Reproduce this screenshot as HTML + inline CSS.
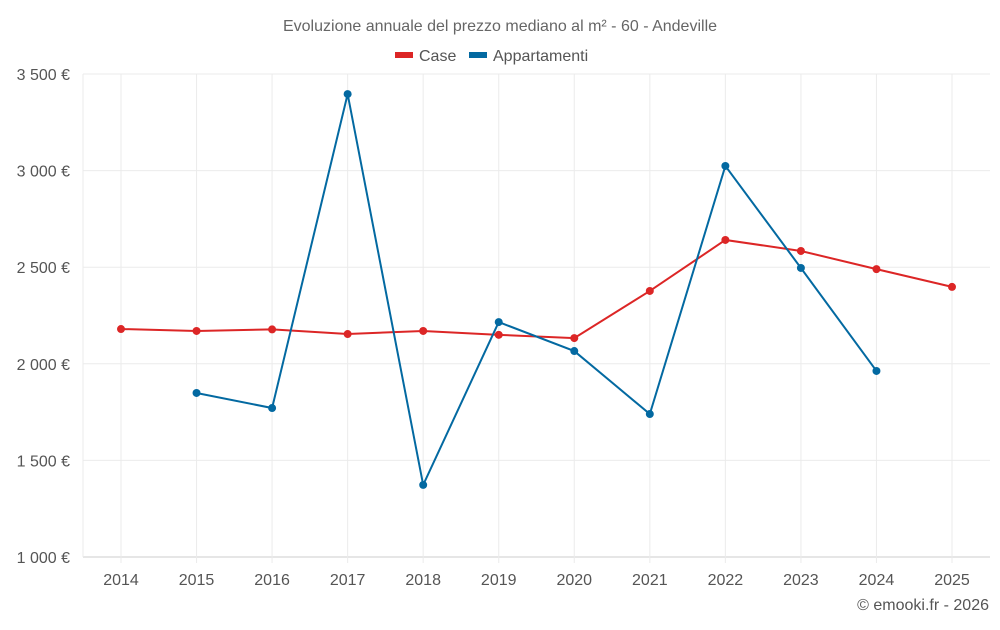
<!DOCTYPE html>
<html><head><meta charset="utf-8"><style>
body{margin:0;background:#fff;font-family:"Liberation Sans",sans-serif;}
svg text{font-family:"Liberation Sans",sans-serif;}
</style></head><body>
<svg id="chart" width="1000" height="625" xmlns="http://www.w3.org/2000/svg">
<text x="500" y="31" text-anchor="middle" font-size="16" fill="#666">Evoluzione annuale del prezzo mediano al m² - 60 - Andeville</text>
<g>
<g><rect x="395" y="52" width="18" height="6" fill="#dc2626"/><text x="419" y="61" font-size="16" fill="#555">Case</text></g>
<g><rect x="469" y="52" width="18" height="6" fill="#0369a1"/><text x="493" y="61" font-size="16" fill="#555">Appartamenti</text></g>
</g>
<g id="grid"></g><g id="axes"></g><g id="series"></g>
<text x="989" y="610" text-anchor="end" font-size="16" fill="#555">© emooki.fr - 2026</text>
</svg>
<script>
const years=[2014,2015,2016,2017,2018,2019,2020,2021,2022,2023,2024,2025];
const caseValues=[2180,2170,2178,2154,2170,2150,2133,2377,2641,2584,2490,2398];
const appValues=[null,1849,1771,3396,1373,2216,2066,1740,3024,2496,1963,null];
const yTicks=[1000,1500,2000,2500,3000,3500];
const yTickLabels=["1 000 €","1 500 €","2 000 €","2 500 €","3 000 €","3 500 €"];
const NS="http://www.w3.org/2000/svg";
const L=83,R=990,T=74,B=557;
function x(i){return 121+i*(952-121)/(years.length-1);}
function y(v){return B-(v-1000)/(3500-1000)*(B-T);}
function mk(tag,a,p){const e=document.createElementNS(NS,tag);for(const k in a)e.setAttribute(k,a[k]);p.appendChild(e);return e;}
const g=document.getElementById('grid'),ax=document.getElementById('axes'),s=document.getElementById('series');
yTicks.forEach((t,i)=>{
 const l=mk('line',{x1:L,x2:R,y1:y(t),y2:y(t),stroke:i==0?'#ccc':'#ebebeb'},g);
 
 
 const tx=mk('text',{x:70,y:y(t)+6,'text-anchor':'end','font-size':16,fill:'#555'},ax);
 tx.textContent=yTickLabels[i];
 
 
});
mk('line',{x1:L,x2:L,y1:T,y2:B,stroke:'#ebebeb'},g);
years.forEach((yr,i)=>{
 const l=mk('line',{x1:x(i),x2:x(i),y1:T,y2:B+6,stroke:'#ebebeb'},g);
 
 
 const tx=mk('text',{x:x(i),y:585,'text-anchor':'middle','font-size':16,fill:'#555'},ax);
 tx.textContent=yr;
 
 
});
function draw(vals,color,name){
 const pts=[];vals.forEach((v,i)=>{if(v!=null)pts.push([x(i),y(v)]);});
 const p=mk('polyline',{points:pts.map(q=>q.join(',')).join(' '),fill:'none',stroke:color,'stroke-width':2},s);
 
 
 pts.forEach(q=>{const c=mk('circle',{cx:q[0],cy:q[1],r:4,fill:color},s);
 
 });
}
draw(caseValues,'#dc2626','case');
draw(appValues,'#0369a1','appartamenti');
</script>
</body></html>
